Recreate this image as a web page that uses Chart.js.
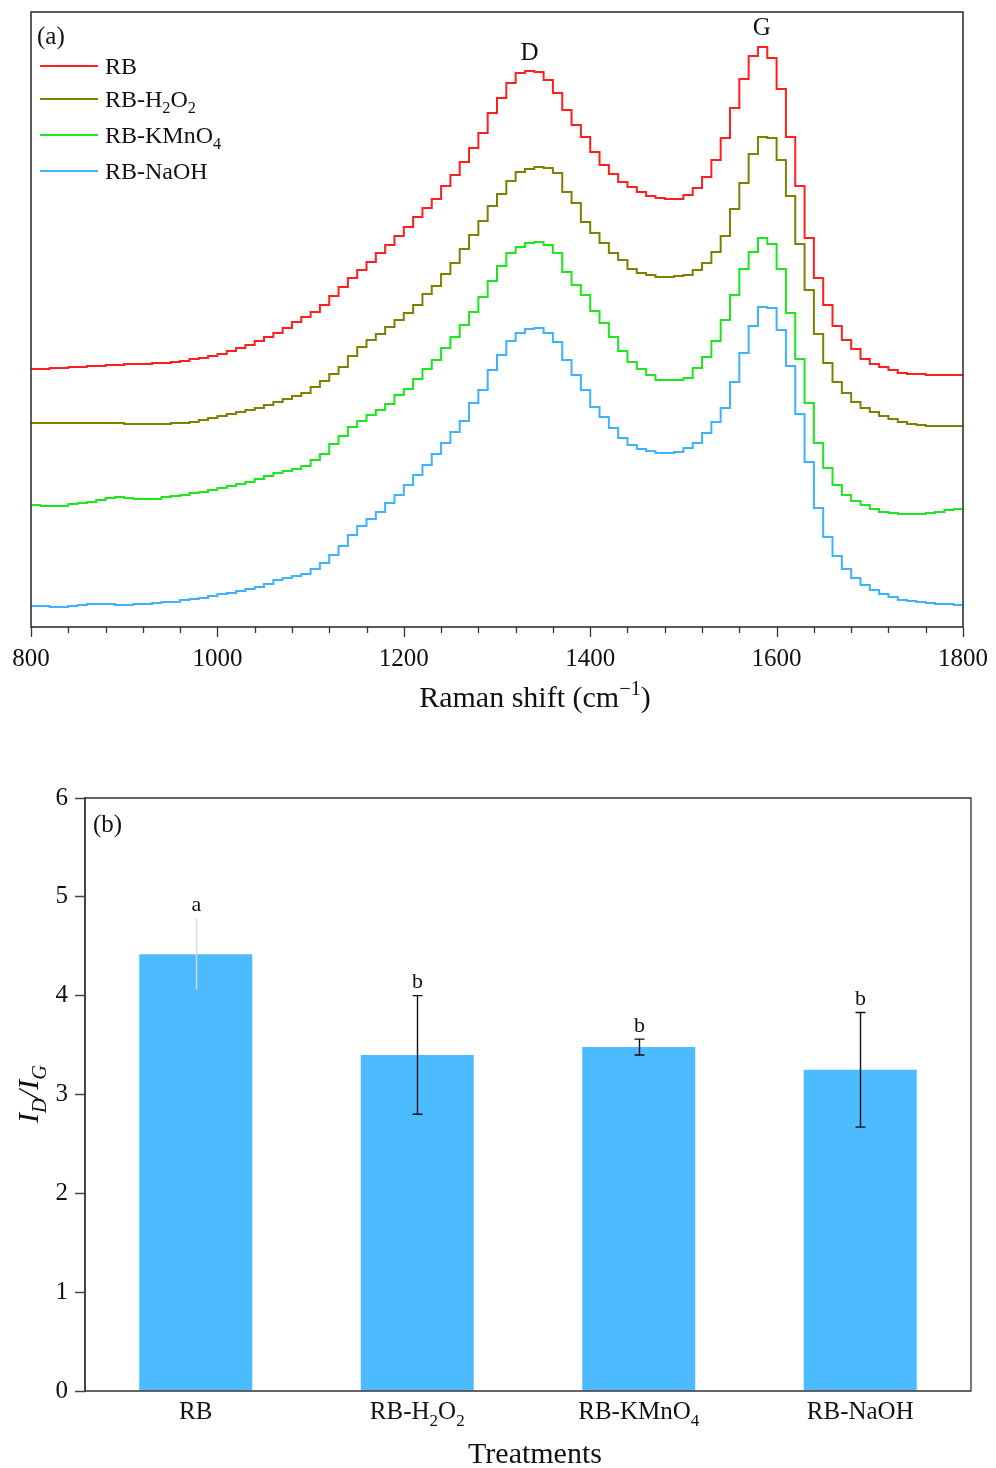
<!DOCTYPE html>
<html><head><meta charset="utf-8">
<script src="https://cdn.jsdelivr.net/npm/chart.js@4.4.1/dist/chart.umd.min.js"></script>
<style>
html,body{margin:0;padding:0;background:#fff;}
#wrap{position:relative;width:996px;height:1468px;overflow:hidden;background:#fff;}
#c1{position:absolute;left:0;top:0;}
#c2{position:absolute;left:0;top:760px;}
</style></head><body>
<div id="wrap"><canvas id="c1" width="996" height="730"></canvas><canvas id="c2" width="996" height="708"></canvas></div>
<script>
// ---------- DATA: panel (a) Raman spectra ----------
const wavenumbers = [800,810,820,830,840,850,860,870,880,890,900,910,920,930,940,950,960,970,980,990,
1000,1010,1020,1030,1040,1050,1060,1070,1080,1090,1100,1110,1120,1130,1140,1150,1160,1170,1180,1190,
1200,1210,1220,1230,1240,1250,1260,1270,1280,1290,1300,1310,1320,1330,1340,1350,1360,1370,1380,1390,
1400,1410,1420,1430,1440,1450,1460,1470,1480,1490,1500,1510,1520,1530,1540,1550,1560,1570,1580,1590,
1600,1610,1620,1630,1640,1650,1660,1670,1680,1690,1700,1710,1720,1730,1740,1750,1760,1770,1780,1790,1800];
const intensityRB = [258,258,259,259,260,260,261,261,262,262,
263,263,263,264,264,265,266,268,269,271,
273,276,279,282,286,290,294,299,305,310,
315,322,331,340,349,357,365,374,382,391,
400,410,419,428,441,452,465,479,494,514,
529,544,554,556,555,547,534,517,502,490,
475,462,453,445,440,435,431,429,428,428,
432,439,450,467,489,519,548,571,580,569,
538,490,441,389,349,322,301,287,278,268,
263,260,257,254,253,253,252,252,252,252,252];
const intensityH2O2 = [204,204,204,204,204,204,204,204,204,204,
203,203,203,203,203,204,204,205,207,209,
211,213,215,217,219,222,225,228,231,234,
240,246,253,260,271,280,287,293,300,307,
314,322,333,341,353,364,378,392,406,421,
433,446,455,458,460,459,454,435,424,405,
394,384,374,367,358,354,352,350,350,351,
352,357,364,375,391,418,444,473,490,489,
467,431,383,337,293,264,245,234,225,219,
215,211,208,205,203,202,201,201,201,201,201];
const intensityKMnO4 = [122,121,121,121,123,124,125,127,129,130,
129,128,128,128,130,131,132,134,135,137,
139,141,143,145,148,151,154,156,158,161,
167,173,183,191,200,206,212,217,223,232,
238,248,258,267,279,290,302,315,330,346,
361,374,380,384,385,382,374,355,342,332,
316,304,290,276,265,258,252,247,247,247,
249,259,270,286,307,332,358,375,389,383,
358,314,268,224,184,159,142,132,126,122,
118,115,114,113,113,113,114,115,117,118,118];
const intensityNaOH = [21,21,20,20,21,22,23,23,23,22,
22,23,23,24,25,25,27,28,29,31,
33,34,36,38,40,43,47,49,51,53,
58,64,72,81,92,101,108,115,124,132,
142,152,162,173,184,195,206,224,237,257,
272,286,294,298,299,294,285,267,252,237,
220,210,199,189,182,178,176,174,174,175,
179,184,194,205,219,245,274,301,320,319,
297,261,213,165,119,90,71,58,49,42,
37,33,30,27,26,25,24,23,23,22,22];
const seriesNames = ['RB','RB-H2O2','RB-KMnO4','RB-NaOH'];
const ramanTicks = [800,1000,1200,1400,1600,1800];
const peakNames = ['D','G'];
const peakShifts = [1335,1584];

// ---------- DATA: panel (b) ID/IG ----------
const treatments = ['RB','RB-H2O2','RB-KMnO4','RB-NaOH'];
const idigMeans = [4.42,3.40,3.48,3.25];
const idigErrors = [0.36,0.60,0.08,0.58];
const sigLetters = ['a','b','b','b'];
const idigTicks = [0,1,2,3,4,5,6];

// ---------- helpers ----------
const FONT = "'Liberation Serif','Times New Roman',serif";
const INK = '#111';
function richParts(s){ const out=[]; s.replace(/(\d+)|([^\d]+)/g,(m,d)=>{ out.push([m, d?1:0]); return m;}); return out; }
function drawRich(ctx, parts, x, yBase, size, align, italic){
  const it = italic ? 'italic ' : '';
  const sz = p => p[1] ? size*0.68 : size;
  const fontOf = p => it + sz(p).toFixed(1) + 'px ' + FONT;
  let total = 0;
  const ws = parts.map(p => { ctx.font = fontOf(p); const w = ctx.measureText(p[0]).width; total += w; return w; });
  let cx = align === 'center' ? x - total/2 : (align === 'right' ? x - total : x);
  ctx.textAlign = 'left'; ctx.textBaseline = 'alphabetic';
  parts.forEach((p,i) => { ctx.font = fontOf(p); const dy = p[1]===1 ? size*0.26 : (p[1]===2 ? -size*0.40 : 0); ctx.fillText(p[0], cx, yBase+dy); cx += ws[i]; });
}

const colors = ['#FF1F1F','#808000','#1EE61E','#3EB2FF'];
const seriesData = [intensityRB,intensityH2O2,intensityKMnO4,intensityNaOH];

// ---------- chart (a) ----------
const decorA = {
  id:'decorA',
  afterDraw(chart){
    const {ctx, chartArea:a, scales:{x,y}} = chart;
    ctx.save();
    ctx.strokeStyle = '#333'; ctx.lineWidth = 1.6;
    ctx.strokeRect(a.left, a.top, a.right-a.left, a.bottom-a.top);
    // ticks
    ctx.beginPath();
    for(let v = x.min; v <= x.max + 0.01; v += 40){
      const px = Math.round(x.getPixelForValue(v)) + 0.5;
      const len = ramanTicks.includes(v) ? 10 : 6;
      ctx.moveTo(px, a.bottom); ctx.lineTo(px, a.bottom + len);
    }
    ctx.lineWidth = 1.3; ctx.stroke();
    ctx.fillStyle = INK;
    // panel label
    ctx.font = '25px ' + FONT; ctx.textAlign='left'; ctx.textBaseline='middle';
    ctx.fillText('(a)', 37, 37);
    // peak labels
    ctx.textAlign='center';
    peakNames.forEach((n,i)=>{
      const w = peakShifts[i];
      const idx = wavenumbers.indexOf(Math.round(w/10)*10);
      const py = y.getPixelForValue(intensityRB[idx]);
      ctx.font = '25px ' + FONT; ctx.textBaseline='middle';
      ctx.fillText(n, x.getPixelForValue(w), py - 19);
    });
    // legend
    const ly = [66, 99, 135, 171];
    seriesNames.forEach((n,i)=>{
      ctx.strokeStyle = colors[i]; ctx.lineWidth = 2;
      ctx.beginPath(); ctx.moveTo(40, ly[i]); ctx.lineTo(98, ly[i]); ctx.stroke();
      ctx.fillStyle = INK;
      drawRich(ctx, richParts(n), 105, ly[i] + 8, 24, 'left', false);
    });
    // x title
    drawRich(ctx, [['Raman shift (cm',0],['\u22121',2],[')',0]], 535, 707, 30, 'center', false);
    ctx.restore();
  }
};

new Chart(document.getElementById('c1'), {
  type:'line',
  data:{ datasets: seriesData.map((arr,i)=>({
    label: seriesNames[i],
    data: wavenumbers.map((w,j)=>({x:w, y:arr[j]})),
    borderColor: colors[i], borderWidth: 2, pointRadius: 0, stepped: 'before', fill:false
  }))},
  options:{
    responsive:false, animation:false, events:[],
    layout:{ padding:{ left:31, right:33, top:12, bottom:0 } },
    plugins:{ legend:{display:false}, tooltip:{enabled:false} },
    scales:{
      x:{ type:'linear', min:800, max:1800,
          grid:{display:false, drawTicks:false}, border:{display:false},
          ticks:{ stepSize:200, color:INK, font:{family:FONT, size:25}, padding:17, maxRotation:0,
                  callback:(v)=> ramanTicks.includes(v) ? String(v) : '' },
          afterFit:(s)=>{ s.height = 103; s.paddingLeft = 0; s.paddingRight = 0; } },
      y:{ display:false, min:0, max:615 }
    }
  },
  plugins:[decorA]
});

// ---------- chart (b) ----------
const decorB = {
  id:'decorB',
  afterDatasetsDraw(chart){
    const {ctx, chartArea:a, scales:{x,y}} = chart;
    ctx.save();
    idigMeans.forEach((m,i)=>{
      const px = Math.round(x.getPixelForValue(i)) + 0.5;
      const top = y.getPixelForValue(m + idigErrors[i]);
      const bot = y.getPixelForValue(m - idigErrors[i]);
      ctx.strokeStyle = i===0 ? '#d9d9d9' : '#111';
      ctx.lineWidth = 1.4;
      ctx.beginPath(); ctx.moveTo(px, top); ctx.lineTo(px, bot);
      if(i!==0){ ctx.moveTo(px-5, top); ctx.lineTo(px+5, top); ctx.moveTo(px-5, bot); ctx.lineTo(px+5, bot); }
      ctx.stroke();
      ctx.fillStyle = INK; ctx.font = '22px ' + FONT; ctx.textAlign='center'; ctx.textBaseline='middle';
      ctx.fillText(sigLetters[i], px, top - 13);
    });
    ctx.restore();
  },
  afterDraw(chart){
    const {ctx, chartArea:a, scales:{x,y}} = chart;
    ctx.save();
    ctx.strokeStyle = '#333'; ctx.lineWidth = 1.3;
    ctx.beginPath();
    ctx.moveTo(a.left, a.top); ctx.lineTo(a.right, a.top); ctx.lineTo(a.right, a.bottom); ctx.lineTo(a.left, a.bottom);
    ctx.stroke();
    ctx.strokeStyle = '#444'; ctx.lineWidth = 2;
    ctx.beginPath(); ctx.moveTo(a.left, a.top - 1); ctx.lineTo(a.left, a.bottom + 1); ctx.stroke();
    ctx.fillStyle = INK;
    ctx.font = '25px ' + FONT; ctx.textAlign='left'; ctx.textBaseline='middle';
    ctx.fillText('(b)', 93, 65);
    treatments.forEach((t,i)=>{
      drawRich(ctx, richParts(t), x.getPixelForValue(i), 659, 25, 'center', false);
    });
    drawRich(ctx, [['Treatments',0]], 535, 703, 30, 'center', false);
    ctx.translate(30, 334); ctx.rotate(-Math.PI/2);
    drawRich(ctx, [['I',0],['D',1],['/',0],['I',0],['G',1]], 0, 8, 30, 'center', true);
    ctx.restore();
  }
};

new Chart(document.getElementById('c2'), {
  type:'bar',
  data:{ labels: treatments, datasets:[{ label:'ID/IG', data: idigMeans, backgroundColor:'#4DBBFF', borderWidth:0,
          barPercentage:0.51, categoryPercentage:1.0 }]},
  options:{
    responsive:false, animation:false, events:[],
    layout:{ padding:{ left:0, right:25, top:38, bottom:0 } },
    plugins:{ legend:{display:false}, tooltip:{enabled:false} },
    scales:{
      x:{ type:'category', grid:{display:false, drawTicks:false}, border:{display:false},
          ticks:{display:false}, afterFit:(s)=>{ s.height = 77; } },
      y:{ min:0, max:6,
          grid:{ display:true, drawOnChartArea:false, drawTicks:true, tickLength:10, tickColor:'#444', tickWidth:1.5 },
          border:{display:false},
          afterBuildTicks:(s)=>{ s.ticks = idigTicks.map(v=>({value:v})); },
          ticks:{ color:INK, font:{family:FONT, size:25}, padding:7 },
          afterFit:(s)=>{ s.width = 85; } }
    }
  },
  plugins:[decorB]
});
</script>
</body></html>
